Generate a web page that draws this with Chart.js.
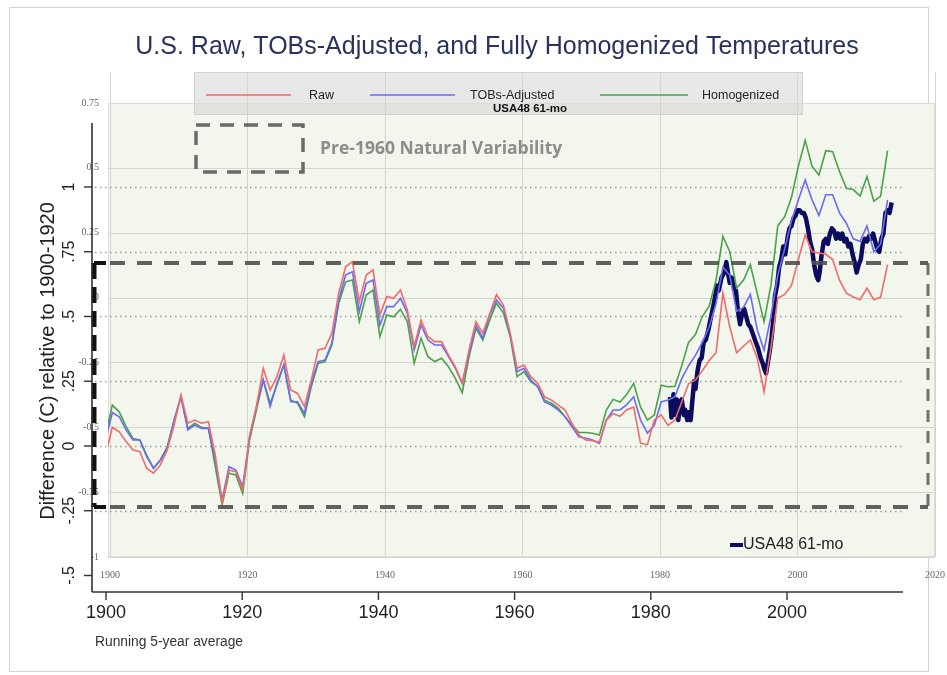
<!DOCTYPE html>
<html><head><meta charset="utf-8">
<script src="https://cdn.jsdelivr.net/npm/chart.js@4/dist/chart.umd.min.js"></script>
<style>html,body{margin:0;padding:0;background:#fff;}canvas{display:block}</style>
</head><body>
<canvas id="c" width="947" height="675"></canvas>
<script>
// ---------- DATA ----------
const years = [1900,1901,1902,1903,1904,1905,1906,1907,1908,1909,
1910,1911,1912,1913,1914,1915,1916,1917,1918,1919,
1920,1921,1922,1923,1924,1925,1926,1927,1928,1929,
1930,1931,1932,1933,1934,1935,1936,1937,1938,1939,
1940,1941,1942,1943,1944,1945,1946,1947,1948,1949,
1950,1951,1952,1953,1954,1955,1956,1957,1958,1959,
1960,1961,1962,1963,1964,1965,1966,1967,1968,1969,
1970,1971,1972,1973,1974,1975,1976,1977,1978,1979,
1980,1981,1982,1983,1984,1985,1986,1987,1988,1989,
1990,1991,1992,1993,1994,1995,1996,1997,1998,1999,
2000,2001,2002,2003,2004,2005,2006,2007,2008,2009,
2010,2011,2012,2013,2014];
const rawVals = [-0.035,0.072,0.055,0.017,-0.015,-0.022,-0.086,-0.105,-0.073,-0.015,
0.081,0.197,0.088,0.10,0.088,0.094,-0.035,-0.221,-0.093,-0.099,
-0.17,0.036,0.152,0.30,0.216,0.268,0.351,0.216,0.203,0.152,
0.255,0.371,0.377,0.435,0.59,0.692,0.712,0.557,0.66,0.68,
0.506,0.577,0.57,0.602,0.525,0.383,0.486,0.422,0.403,0.403,
0.351,0.306,0.242,0.371,0.48,0.435,0.51,0.585,0.544,0.435,
0.30,0.313,0.268,0.242,0.19,0.177,0.158,0.139,0.087,0.043,
0.023,0.02,0.015,0.10,0.125,0.115,0.14,0.15,0.01,0.005,
0.10,0.12,0.08,0.10,0.17,0.24,0.255,0.29,0.33,0.36,
0.59,0.46,0.36,0.385,0.41,0.34,0.21,0.38,0.57,0.585,
0.62,0.72,0.815,0.75,0.745,0.74,0.72,0.64,0.59,0.575,
0.565,0.61,0.565,0.575,0.70];
const tobsVals = [0.023,0.129,0.113,0.062,0.023,0.023,-0.041,-0.086,-0.054,-0.009,
0.10,0.19,0.062,0.081,0.068,0.068,-0.054,-0.208,-0.08,-0.093,
-0.157,0.036,0.152,0.255,0.152,0.242,0.313,0.171,0.171,0.126,
0.242,0.326,0.332,0.397,0.564,0.66,0.673,0.519,0.628,0.641,
0.467,0.538,0.538,0.57,0.512,0.371,0.467,0.409,0.39,0.39,
0.345,0.30,0.242,0.358,0.467,0.416,0.506,0.564,0.532,0.429,
0.287,0.30,0.255,0.229,0.17,0.158,0.139,0.113,0.074,0.036,
0.03,0.023,0.01,0.10,0.139,0.139,0.16,0.19,0.10,0.05,
0.08,0.17,0.178,0.19,0.26,0.31,0.35,0.40,0.46,0.55,
0.69,0.66,0.52,0.535,0.585,0.45,0.37,0.50,0.66,0.76,
0.87,0.95,1.027,0.95,0.89,0.97,0.97,0.90,0.86,0.80,
0.79,0.85,0.75,0.78,0.95];
const homVals = [0.042,0.158,0.132,0.075,0.029,0.023,-0.035,-0.086,-0.054,-0.003,
0.10,0.19,0.068,0.088,0.072,0.068,-0.08,-0.228,-0.105,-0.112,
-0.183,0.023,0.139,0.255,0.165,0.236,0.313,0.178,0.165,0.113,
0.229,0.319,0.326,0.39,0.551,0.634,0.641,0.48,0.583,0.602,
0.422,0.506,0.499,0.528,0.48,0.319,0.416,0.345,0.326,0.339,
0.306,0.261,0.206,0.345,0.454,0.409,0.486,0.551,0.513,0.422,
0.268,0.287,0.248,0.229,0.177,0.165,0.145,0.113,0.081,0.052,
0.052,0.049,0.042,0.139,0.18,0.17,0.20,0.242,0.15,0.10,
0.12,0.235,0.229,0.23,0.31,0.40,0.43,0.50,0.54,0.64,
0.81,0.75,0.61,0.64,0.70,0.59,0.48,0.62,0.85,0.885,
0.96,1.08,1.18,1.08,1.046,1.14,1.136,1.06,0.995,0.99,
0.965,1.04,0.945,0.965,1.14];
const usaYears = [1982.3,1982.5,1982.8,1983.0,1983.3,1983.5,1983.8,1984.0,1984.3,1984.5,1984.8,1985.0,1985.3,1985.5,1985.8,
1986.0,1986.3,1986.6,1986.9,1987.2,1987.5,1987.9,1988.2,1988.6,1988.9,1989.1,1989.4,1989.8,1990.2,1990.5,1990.8,
1991.0,1991.3,1991.6,1991.9,1992.2,1992.5,1992.8,1993.1,1993.4,1993.7,1994.0,1994.4,1994.8,1995.1,1995.5,1995.8,
1996.0,1996.3,1996.6,1996.9,1997.1,1997.4,1997.6,1997.9,1998.2,1998.5,1998.8,1999.1,1999.4,1999.7,
2000.0,2000.3,2000.6,2000.9,2001.2,2001.5,2001.8,2002.1,2002.4,2002.7,2003.0,2003.3,2003.6,2003.9,
2004.1,2004.4,2004.7,2005.0,2005.3,2005.6,2005.9,2006.2,2006.5,2006.8,2007.1,2007.4,2007.7,2008.0,
2008.3,2008.6,2008.9,2009.2,2009.5,2009.8,2010.1,2010.4,2010.7,2011.0,2011.3,2011.6,2011.9,2012.2,
2012.5,2012.8,2013.1,2013.4,2013.7,2014.0,2014.3,2014.6];
const usaVals = [0.19,0.11,0.20,0.12,0.18,0.10,0.17,0.18,0.12,0.14,0.10,0.13,0.10,0.16,0.25,
0.22,0.29,0.33,0.34,0.40,0.41,0.45,0.49,0.54,0.58,0.62,0.60,0.65,0.67,0.71,0.66,
0.63,0.65,0.61,0.60,0.52,0.47,0.51,0.53,0.50,0.47,0.46,0.43,0.40,0.38,0.34,0.32,
0.30,0.28,0.33,0.38,0.42,0.50,0.58,0.62,0.69,0.72,0.77,0.74,0.80,0.84,
0.85,0.88,0.89,0.91,0.91,0.90,0.90,0.88,0.84,0.79,0.76,0.70,0.66,0.64,
0.67,0.74,0.79,0.80,0.78,0.82,0.84,0.83,0.80,0.82,0.80,0.82,0.79,0.80,
0.77,0.78,0.74,0.71,0.67,0.70,0.72,0.78,0.80,0.79,0.81,0.80,0.82,0.79,
0.76,0.75,0.80,0.82,0.90,0.91,0.90,0.94];
const innerXTicks = [1900,1920,1940,1960,1980,2000,2020];
const innerYTicks = [0.75,0.5,0.25,0,-0.25,-0.5,-0.75,-1];
const innerYLabels = ['0.75','0.5','0.25','0','-0.25','-0.5','-0.75','-1'];
const outerXTicks = [1900,1920,1940,1960,1980,2000];
const outerYTicks = [1,0.75,0.5,0.25,0,-0.25,-0.5];
const outerYLabels = ['1','.75','.5','.25','0','-.25','-.5'];
const dottedVals = [1,0.75,0.5,0.25,0,-0.25];
const seriesNames = ['Raw','TOBs-Adjusted','Homogenized'];
const usaName = 'USA48 61-mo';
const titleText = 'U.S. Raw, TOBs-Adjusted, and Fully Homogenized Temperatures';
const yTitle = 'Difference (C) relative to 1900-1920';
const xNote = 'Running 5-year average';
const boxNote = 'Pre-1960 Natural Variability';
const variabilityTop = 0.707, variabilityBottom = -0.235;

const COLORS = ['#f06a6a','#6a6af2','#4aa24a','#0c0c5e'];

function pts(xs, ys){ return xs.map((x,i)=>({x:x, y:ys[i]})); }

function seg(ctx,x1,y1,x2,y2){ctx.beginPath();ctx.moveTo(x1,y1);ctx.lineTo(x2,y2);ctx.stroke();}

const deco = {
  id:'deco',
  beforeDraw(chart){
    const {ctx, chartArea:a, scales:s} = chart;
    ctx.save();
    ctx.fillStyle='#fff'; ctx.fillRect(0,0,chart.width,chart.height);
    ctx.strokeStyle='#d4d4d4'; ctx.lineWidth=1;
    ctx.strokeRect(9.5,7.5,919,664);
    // plot background
    ctx.fillStyle='#f2f6ec';
    ctx.fillRect(a.left,a.top,a.right-a.left,a.bottom-a.top);
    // legend box (semi transparent)
    ctx.fillStyle='rgba(205,205,205,0.45)';
    ctx.fillRect(194,72,609,43);
    ctx.strokeStyle='#d2d2d2'; ctx.strokeRect(194.5,72.5,608,42);
    // inner grid
    ctx.strokeStyle='#d3d6cc'; ctx.lineWidth=1;
    innerYTicks.forEach(v=>{const y=Math.round(s.yi.getPixelForValue(v))+0.5; seg(ctx,a.left,y,a.right,y);});
    innerXTicks.forEach(v=>{const x=Math.round(s.xi.getPixelForValue(v))+0.5; seg(ctx,x,72,x,a.bottom);});
    ctx.strokeStyle='#dcdcdc'; ctx.strokeRect(a.left+0.5,a.top+0.5,a.right-a.left-1,a.bottom-a.top-1);
    // inner small tick labels
    ctx.fillStyle='#666'; ctx.font='10px "Liberation Serif", serif';
    ctx.textAlign='right'; ctx.textBaseline='middle';
    innerYTicks.forEach((v,i)=>{ctx.fillText(innerYLabels[i],99,s.yi.getPixelForValue(v));});
    ctx.textAlign='center';
    innerXTicks.forEach(v=>{ctx.fillText(String(v),s.xi.getPixelForValue(v),575);});
    // outer dotted grid
    ctx.strokeStyle='#9b9b9b'; ctx.lineWidth=1.3; ctx.setLineDash([1.5,3.5]);
    dottedVals.forEach(v=>{const y=Math.round(s.y.getPixelForValue(v))+0.5; seg(ctx,95,y,905,y);});
    ctx.setLineDash([]);
    ctx.restore();
  },
  afterDatasetsDraw(chart){
    const {ctx, chartArea:a, scales:s} = chart;
    ctx.save();
    const yT = Math.round(s.y.getPixelForValue(variabilityTop));
    const yB = Math.round(s.y.getPixelForValue(variabilityBottom));
    ctx.strokeStyle='rgba(80,80,80,0.9)'; ctx.lineWidth=4; ctx.setLineDash([15,12]);
    seg(ctx,110,yT,928,yT); seg(ctx,110,yB,928,yB);
    ctx.lineWidth=3; ctx.strokeStyle='rgba(90,90,90,0.85)'; ctx.setLineDash([12,9]);
    seg(ctx,928,yT,928,yB);
    ctx.strokeStyle='#111'; ctx.lineWidth=5; ctx.setLineDash([16,8]);
    seg(ctx,94,yT,94,yB);
    ctx.lineWidth=4; ctx.setLineDash([]);
    seg(ctx,94,yT,106,yT); seg(ctx,94,yB,106,yB);
    ctx.strokeStyle='rgba(90,90,90,0.9)'; ctx.lineWidth=3.5; ctx.setLineDash([14,10]);
    ctx.strokeRect(196,125,107,47);
    ctx.setLineDash([]);
    ctx.restore();
  },
  afterDraw(chart){
    const {ctx, chartArea:a, scales:s} = chart;
    ctx.save();
    ctx.strokeStyle='#333'; ctx.lineWidth=1.6;
    seg(ctx,92,123,92,592); seg(ctx,92,592,903,592);
    ctx.lineWidth=1.4;
    outerYTicks.forEach(v=>{const y=s.y.getPixelForValue(v); seg(ctx,84,y,92,y);});
    outerXTicks.forEach(v=>{const x=s.xo.getPixelForValue(v); seg(ctx,x,592,x,600);});
    ctx.fillStyle='#222';
    ctx.font='18px "Liberation Sans", Arial, sans-serif';
    ctx.textAlign='center'; ctx.textBaseline='middle';
    outerXTicks.forEach(v=>{ctx.fillText(String(v),s.xo.getPixelForValue(v),613);});
    ctx.font='16px "Liberation Sans", Arial, sans-serif';
    outerYTicks.forEach((v,i)=>{
      const y=s.y.getPixelForValue(v);
      ctx.save(); ctx.translate(70,y); ctx.rotate(-Math.PI/2); ctx.fillText(outerYLabels[i],0,0); ctx.restore();
    });
    ctx.font='20px "Liberation Sans", Arial, sans-serif';
    ctx.save(); ctx.translate(48,361); ctx.rotate(-Math.PI/2); ctx.fillText(yTitle,0,0); ctx.restore();
    ctx.font='13.8px "Liberation Sans", Arial, sans-serif'; ctx.textAlign='left';
    ctx.fillStyle='#333';
    ctx.fillText(xNote,95,642);
    ctx.fillStyle='#28325c'; ctx.textAlign='center';
    ctx.font='25px "Liberation Sans", Arial, sans-serif';
    ctx.fillText(titleText,497,47);
    const lx = [[206,291,309],[370,455,470],[600,688,702]];
    ctx.font='12.5px "Liberation Sans", Arial, sans-serif'; ctx.textAlign='left';
    lx.forEach((p,i)=>{
      ctx.strokeStyle=COLORS[i]; ctx.lineWidth=1.6; seg(ctx,p[0],95,p[1],95);
      ctx.fillStyle='#222'; ctx.fillText(seriesNames[i],p[2],96);
    });
    ctx.font='bold 11.5px "Liberation Sans", Arial, sans-serif'; ctx.textAlign='center';
    ctx.fillStyle='#111'; ctx.fillText(usaName,530,109);
    ctx.font='bold 17.5px "Open Sans", "Liberation Sans", sans-serif'; ctx.textAlign='left';
    ctx.fillStyle='#8c8c8c'; ctx.fillText(boxNote,320,149);
    ctx.strokeStyle=COLORS[3]; ctx.lineWidth=4; seg(ctx,730,545,743,545);
    ctx.fillStyle='#222'; ctx.font='16px "Liberation Sans", Arial, sans-serif';
    ctx.fillText(usaName,743,545);
    ctx.restore();
  }
};

const cfg = {
  type:'line',
  data:{datasets:[
    {label:seriesNames[0], data:pts(years,rawVals), borderColor:COLORS[0], borderWidth:1.6, pointRadius:0, tension:0, xAxisID:'x', yAxisID:'y'},
    {label:seriesNames[1], data:pts(years,tobsVals), borderColor:COLORS[1], borderWidth:1.6, pointRadius:0, tension:0, xAxisID:'x', yAxisID:'y'},
    {label:seriesNames[2], data:pts(years,homVals), borderColor:COLORS[2], borderWidth:1.6, pointRadius:0, tension:0, xAxisID:'x', yAxisID:'y'},
    {label:usaName, data:pts(usaYears,usaVals), borderColor:COLORS[3], borderWidth:4.5, pointRadius:0, tension:0, borderJoinStyle:'round', xAxisID:'x', yAxisID:'y'}
  ]},
  options:{
    responsive:false, animation:false, devicePixelRatio:1,
    layout:{padding:{left:108, top:103, right:12, bottom:118}},
    plugins:{legend:{display:false}, title:{display:false}, tooltip:{enabled:false}},
    scales:{
      x:{type:'linear', display:false, min:1900.364, max:2020.92},
      xo:{type:'linear', display:false, min:1900.294, max:2021.73},
      xi:{type:'linear', display:false, min:1899.71, max:2020.0},
      y:{type:'linear', display:false, min:-0.4286, max:1.3243},
      yi:{type:'linear', display:false, min:-1, max:0.75}
    }
  },
  plugins:[deco]
};
new Chart(document.getElementById('c'), cfg);
</script>
</body></html>
